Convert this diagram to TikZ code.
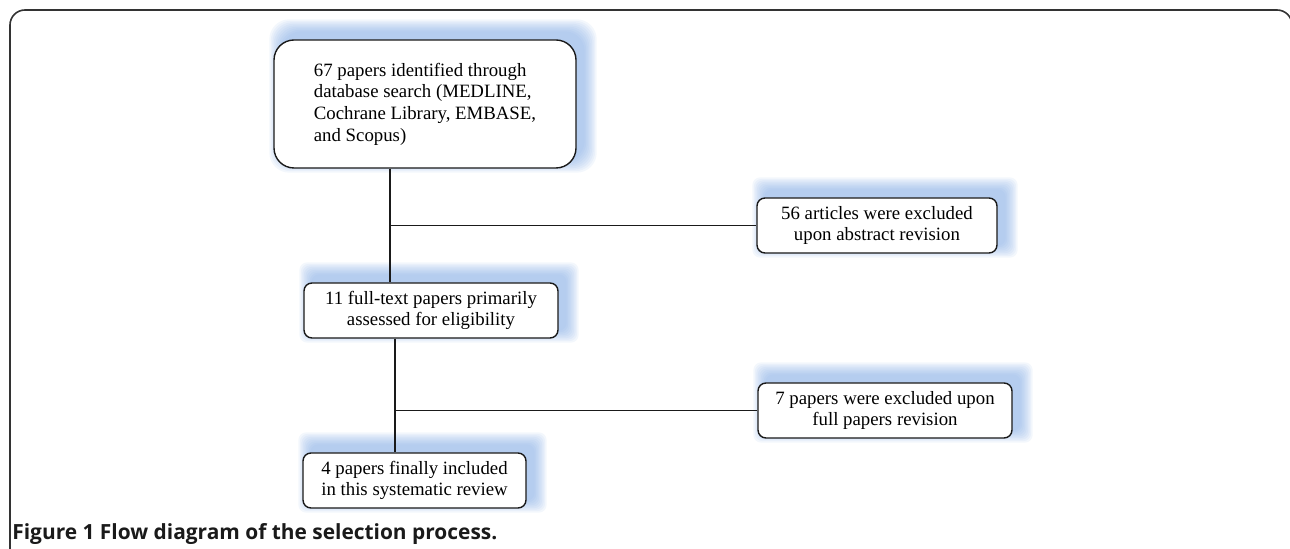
\documentclass[tikz,border=0pt]{standalone}
\usepackage{fontspec}
\setmainfont{Liberation Serif}
\newfontfamily\capfont{Open Sans}
\definecolor{fLine}{HTML}{1A1A1A}
\definecolor{fFrame}{HTML}{333333}
\definecolor{fGlow}{HTML}{7DA7E3}
\usetikzlibrary{positioning, backgrounds, calc}

\begin{document}
\begin{tikzpicture}[x=0.5pt, y=-0.5pt,
  stage/.style={draw=fLine, line width=0.7pt, rounded corners=4pt, fill=white,
                minimum height=27.5pt, inner sep=0pt, align=center,
                font=\fontsize{9.4}{10.8}\selectfont},
  link/.style={draw=fLine, line width=0.7pt}]
  \useasboundingbox (0,0) rectangle (1290,549);

  % outer frame, cut by the page edges
  \draw[fFrame, line width=0.8pt, rounded corners=7.5pt]
    (10,570) |- (1292,10) -- (1292,570);

  \node[stage, rounded corners=10pt, align=left, minimum width=151pt,
        minimum height=64pt] (src) at (425,104)
    {67 papers identified through\\database search (MEDLINE,\\Cochrane Library, EMBASE,\\and Scopus)};
  \node[stage, minimum width=120pt]   (absx)  at (877,225.5)
    {56 articles were excluded\\upon abstract revision};
  \node[stage, minimum width=127pt]   (full)  at (431,310.5)
    {11 full-text papers primarily\\assessed for eligibility};
  \node[stage, minimum width=127pt]   (fullx) at (885,410.5)
    {7 papers were excluded upon\\full papers revision};
  \node[stage, minimum width=111.5pt] (incl)  at (414.5,480.5)
    {4 papers finally included\\in this systematic review};

  % soft blue glow behind the boxes
  \begin{scope}[on background layer]
    \foreach \n/\r in {src/10pt, absx/4pt, full/4pt, fullx/4pt, incl/4pt}{
      \foreach \e in {0,1.5,...,12}{
        \fill[fGlow, opacity=0.09, rounded corners=\r]
          ($(\n.south west)+(8-\e,-8+\e)$) rectangle ($(\n.north east)+(8+\e,-8-\e)$);}}
  \end{scope}

  \coordinate (j1) at (390,0);
  \coordinate (j2) at (395,0);
  \draw[link] (j1 |- src.south) -- (j1 |- full.north);
  \draw[link] (j1 |- absx.west) -- (absx.west);
  \draw[link] (j2 |- full.south) -- (j2 |- incl.north);
  \draw[link] (j2 |- fullx.west) -- (fullx.west);

  \node[anchor=base west, inner sep=0pt, text=fLine,
        font=\capfont\bfseries\fontsize{10.45}{12}\selectfont] (cap) at (12,540)
    {Figure 1 Flow diagram of the selection process.};
\end{tikzpicture}
\end{document}
